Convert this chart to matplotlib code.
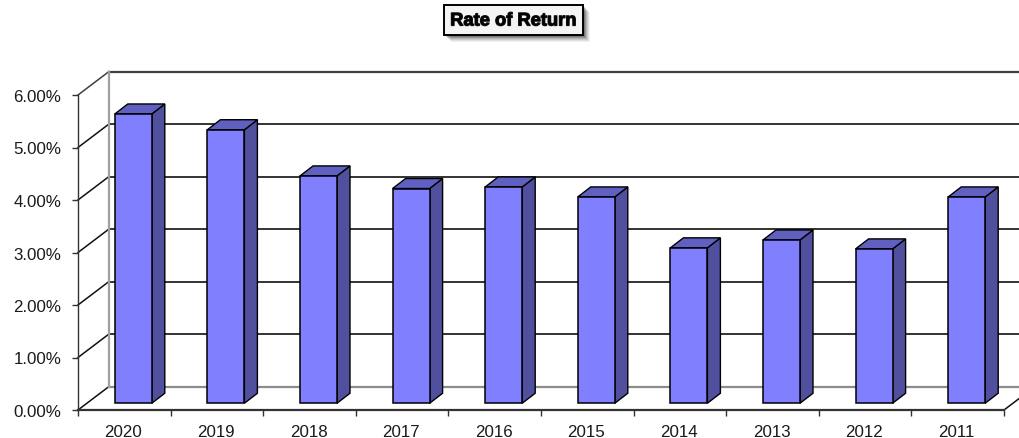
import matplotlib
matplotlib.use('Agg')
import matplotlib.pyplot as plt
import matplotlib.patheffects as pe
from matplotlib.patches import Rectangle

plt.rcParams['font.family'] = ['Liberation Sans', 'DejaVu Sans']

years = ['2020', '2019', '2018', '2017', '2016', '2015', '2014', '2013', '2012', '2011']
rates = [5.51, 5.21, 4.33, 4.09, 4.12, 3.93, 2.96, 3.11, 2.94, 3.93]
y_ticks = [0, 1, 2, 3, 4, 5, 6]

W, H = 1019, 439
fig = plt.figure(figsize=(W/100, H/100), dpi=100)
ax = fig.add_axes([78/W, 1-411/H, 926/W, 315/H])
ax.set_xlim(0, 10)
ax.set_ylim(0, 6)
ax.patch.set_alpha(0)

##==============================================================================
# pixel sizes of the fake 3d box, converted to data units
px_x = 10/926
px_y = 6/315
wall_dx = 31*px_x
wall_dy = 23.5*px_y
bar_w = 37*px_x
bar_dx = 13*px_x
bar_dy = 10*px_y
bar_x0 = 0.5 - bar_w/2 - bar_dx/2 + wall_dx/2
bar_y0 = wall_dy/2 - bar_dy/2

line = '#111111'
for t in y_ticks:
    c = '#8c8c8c' if t == 0 else ('#404040' if t == 6 else '#111111')
    ax.plot([wall_dx, 10+wall_dx], [t+wall_dy, t+wall_dy], color=c,
            lw=1.6 if t in (0, 6) else 1.2, clip_on=False, zorder=1)
    if t != 0:
        ax.plot([0, wall_dx], [t, t+wall_dy], color=line if t < 6 else '#404040',
                lw=1.1, clip_on=False, zorder=1)
ax.plot([0, wall_dx], [0, wall_dy], color=line, lw=1.1, clip_on=False, zorder=1)
ax.plot([10, 10+wall_dx], [0, wall_dy], color=line, lw=1.1, clip_on=False, zorder=1)
ax.plot([wall_dx, wall_dx], [0+wall_dy, 6+wall_dy], color='#a0a0a0', lw=1.6,
        clip_on=False, zorder=1)

##==============================================================================
for i, r in enumerate(rates):
    x = i + bar_x0
    ax.bar(x, r, width=bar_w, bottom=bar_y0, align='edge', color='#8080ff',
           edgecolor='black', lw=1.1, zorder=3)
    top = r + bar_y0
    ax.fill([x+bar_w, x+bar_w+bar_dx, x+bar_w+bar_dx, x+bar_w],
            [bar_y0, bar_y0+bar_dy, top+bar_dy, top],
            fc='#50509f', ec='black', lw=1.0, zorder=2.5)
    ax.fill([x, x+bar_dx, x+bar_w+bar_dx, x+bar_w],
            [top, top+bar_dy, top+bar_dy, top],
            fc='#6060c0', ec='black', lw=1.0, zorder=2.5)

##==============================================================================
for s in ['top', 'right']:
    ax.spines[s].set_visible(False)
ax.spines['left'].set_color('#333333')
ax.spines['left'].set_linewidth(1.0)
ax.spines['bottom'].set_color('#333333')
ax.spines['bottom'].set_linewidth(1.6)

ax.set_yticks(y_ticks)
ax.set_yticklabels(['%.2f%%' % t for t in y_ticks], fontsize=12.2, color='#1a1a1a')
ax.tick_params(axis='y', length=4, width=1.0, color='#333333', pad=8)
ax.set_xticks(range(11))
ax.set_xticklabels([])
ax.tick_params(axis='x', which='major', length=4, width=1.0, color='#333333')
ax.set_xticks([i+0.49 for i in range(10)], minor=True)
ax.set_xticklabels(years, minor=True, fontsize=12.2, color='#1a1a1a')
ax.tick_params(axis='x', which='minor', length=0, pad=10)

##==============================================================================
# title box with a soft shadow
bx, by, bw, bh = 444/W, 1-36/H, 139/W, 30/H
for k, a in [(8, 0.05), (7, 0.07), (6, 0.09), (5, 0.12), (4, 0.15), (3, 0.2), (2, 0.25)]:
    fig.add_artist(Rectangle((bx+(k-1)/W, by-(k-1)/H), bw, bh, transform=fig.transFigure,
                             fc='black', ec='none', alpha=a, zorder=5))
fig.add_artist(Rectangle((bx, by), bw, bh, transform=fig.transFigure,
                         fc='#f4f4f4', ec='black', lw=1.4, zorder=6))
fig.text(bx+bw/2, by+bh/2-1/H, 'Rate of Return', ha='center', va='center', fontsize=13.2,
         fontweight='bold', color='black', zorder=7,
         path_effects=[pe.withStroke(linewidth=0.9, foreground='#222222')])

fig.savefig('out.png', dpi=100, facecolor='white')
